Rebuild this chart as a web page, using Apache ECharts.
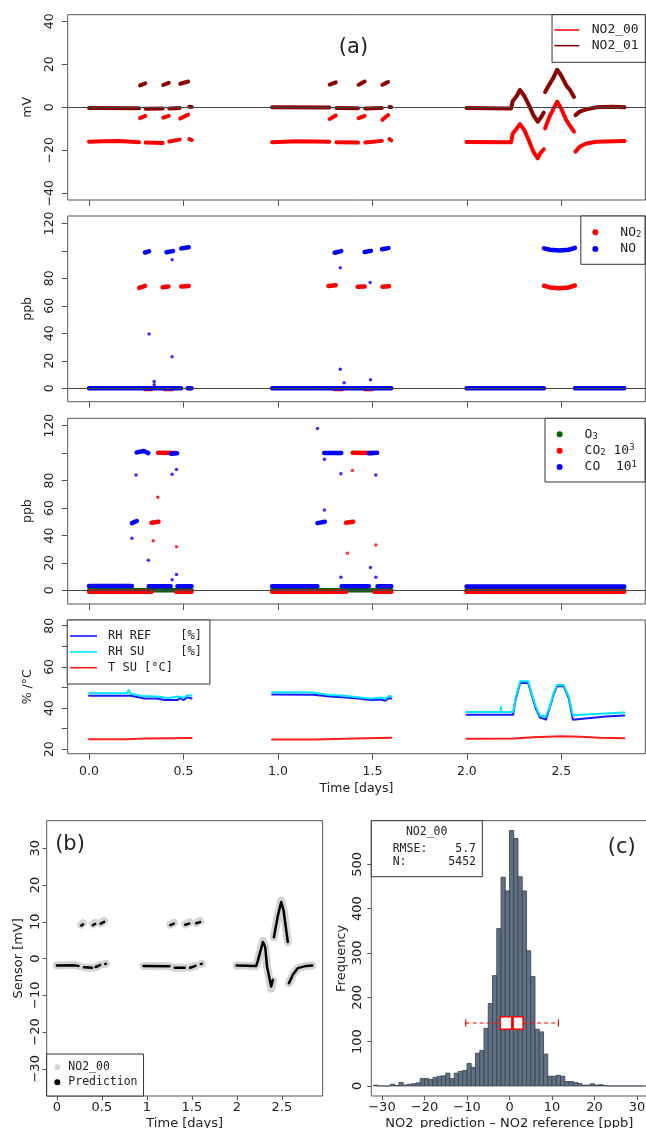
<!DOCTYPE html>
<html><head><meta charset="utf-8">
<script src="https://cdn.jsdelivr.net/npm/echarts@6/dist/echarts.min.js"></script>
<style>html,body{margin:0;padding:0;background:#fff}#c{width:646px;height:1128px}</style>
</head><body><div id="c"></div>
<script>
// ---------------- DATA ----------------
const dayTicks = [0, 0.5, 1, 1.5, 2, 2.5];
const mvTicks = [-40, -20, 0, 20, 40];
const ppbTicks = [0, 20, 40, 60, 80, 100, 120];
const ppbLabels = [0, 20, 40, 60, 80, 120];
const rhTicks = [20, 30, 40, 50, 60, 70, 80];
const rhLabels = [20, 40, 60, 80];
const sensTicks = [-30, -20, -10, 0, 10, 20, 30];
const errTicks = [-30, -20, -10, 0, 10, 20, 30];
const freqTicks = [0, 100, 200, 300, 400, 500];

// (a) sensor signals [day, mV]
const no2_00_mV = [
 [0,-16.0],[0.08,-15.8],[0.16,-15.6],[0.265,-16.2], null,
 [0.27,-5.0],[0.298,-4.0], null,
 [0.30,-16.4],[0.39,-16.6], null,
 [0.393,-4.8],[0.422,-4.0], null,
 [0.425,-15.9],[0.48,-15.0], null,
 [0.483,-5.2],[0.525,-3.4], null,
 [0.531,-14.8],[0.544,-15.2], null,
 [0.969,-16.2],[1.10,-15.8],[1.272,-16.0], null,
 [1.274,-5.4],[1.306,-3.8], null,
 [1.31,-16.2],[1.424,-16.4], null,
 [1.427,-5.0],[1.459,-4.0], null,
 [1.462,-16.4],[1.55,-15.6], null,
 [1.553,-5.8],[1.583,-3.6], null,
 [1.59,-14.8],[1.60,-15.4], null,
 [1.998,-16.1],[2.234,-16.2],[2.243,-12.2],[2.264,-9.8],[2.281,-7.8],[2.304,-10.6],[2.327,-15.2],[2.352,-20.6],[2.375,-23.7],[2.388,-21.4],[2.407,-19.5], null,
 [2.414,-9.8],[2.437,-4.4],[2.455,-1.3],[2.478,2.6],[2.499,-0.5],[2.526,-5.9],[2.547,-8.7],[2.567,-11.3], null,
 [2.575,-20.6],[2.597,-18.3],[2.632,-16.8],[2.685,-16.0],[2.835,-15.7]
];
const no2_01_mV = [
 [0,-0.3],[0.265,-0.4], null,
 [0.27,10.2],[0.298,11.2], null,
 [0.30,-0.6],[0.39,-0.5], null,
 [0.393,10.4],[0.422,11.4], null,
 [0.425,-0.5],[0.48,-0.3], null,
 [0.483,11.0],[0.525,12.0], null,
 [0.531,0.3],[0.544,0.2], null,
 [0.969,0],[1.272,-0.1], null,
 [1.274,10.6],[1.306,11.6], null,
 [1.31,-0.3],[1.424,-0.4], null,
 [1.427,10.5],[1.459,12.0], null,
 [1.462,-0.5],[1.55,-0.3], null,
 [1.553,10.5],[1.583,11.8], null,
 [1.59,0.2],[1.60,0.1], null,
 [1.998,-0.3],[2.234,-0.5],[2.243,3.0],[2.264,5.3],[2.281,8.1],[2.304,5.3],[2.327,1.3],[2.352,-3.6],[2.375,-6.7],[2.388,-5.2],[2.407,-2.5], null,
 [2.414,7.1],[2.437,10.7],[2.455,13.3],[2.478,17.5],[2.499,14.9],[2.526,10.2],[2.547,7.9],[2.567,4.8], null,
 [2.575,-3.6],[2.597,-2.0],[2.632,-0.9],[2.685,0],[2.773,0.3],[2.835,0]
];

// (b) reference NO2 / NO [day, ppb]
const no2_ppb = [
 [0.296,-0.6],[0.33,-0.6], null, [0.40,-0.6],[0.44,-0.6], null,
 [0.266,73.0],[0.297,74.5], null,
 [0.39,73.5],[0.42,74.0], null,
 [0.488,74.0],[0.528,74.5], null,
 [1.30,-0.6],[1.34,-0.6], null, [1.46,-0.6],[1.50,-0.6], null,
 [1.267,74.5],[1.306,75.0], null,
 [1.422,73.8],[1.459,74.0], null,
 [1.553,73.8],[1.588,74.2], null,
 [2.408,74.6],[2.44,73.4],[2.49,72.8],[2.54,73.4],[2.572,74.8]
];
const no_ppb = [
 [0,0],[0.487,0], null, [0.522,0],[0.543,0], null,
 [0.296,98.8],[0.318,99.6], null,
 [0.41,99.0],[0.445,99.8], null,
 [0.488,101.8],[0.528,102.6], null,
 [0.969,0],[1.60,0], null,
 [1.30,98.6],[1.335,99.8], null,
 [1.459,99.2],[1.492,100.0], null,
 [1.551,101.2],[1.585,102.0], null,
 [1.998,0],[2.408,0], null,
 [2.408,101.8],[2.44,100.8],[2.49,100.2],[2.54,100.8],[2.572,102.2], null,
 [2.572,0],[2.833,0]
];
const no_outliers = [[0.318,39.5],[0.44,93.5],[0.44,23],[0.345,5],[0.345,2.5],[1.33,87.7],[1.33,13.8],[1.488,77],[1.49,6.3],[1.35,4]];

// (c) reference O3 / CO2 / CO [day, ppb]
const o3_ppb = [[0,0],[0.543,0], null, [0.969,0],[1.60,0], null, [1.998,0],[2.833,0]];
const co2_ppb = [
 [0,-1],[0.331,-1], null,
 [0.331,49.2],[0.368,50.0], null,
 [0.366,100.2],[0.456,100.0], null,
 [0.462,-1],[0.543,-1], null,
 [0.969,-1],[1.361,-1], null,
 [1.361,49.2],[1.398,50.0], null,
 [1.396,100.2],[1.503,100.0], null,
 [1.51,-1],[1.60,-1], null,
 [1.998,-1],[2.833,-1]
];
const co2_outliers = [[0.364,67.8],[0.34,36.2],[0.463,31.8],[1.394,87.3],[1.368,27],[1.518,33]];
const co_ppb = [
 [0,3.2],[0.227,3.2], null,
 [0.227,49.0],[0.253,50.5], null,
 [0.252,100.5],[0.29,101.5],[0.314,100.0], null,
 [0.316,3.0],[0.432,3.0], null,
 [0.434,99.6],[0.466,99.8], null,
 [0.468,3.0],[0.543,3.0], null,
 [0.969,3.0],[1.209,3.0], null,
 [1.209,49.0],[1.248,50.0], null,
 [1.245,100.0],[1.335,100.0], null,
 [1.337,3.0],[1.481,3.0], null,
 [1.481,99.8],[1.525,100.2], null,
 [1.527,3.0],[1.60,3.0], null,
 [1.998,2.8],[2.833,2.8]
];
const co_outliers = [[0.249,84],[0.227,37.9],[0.314,22],[0.44,84.5],[0.463,88],[0.44,7.8],[0.463,11.6],[1.209,118],[1.246,95.5],[1.246,58.6],[1.333,85],[1.333,9.6],[1.518,84],[1.49,16.6],[1.518,9.6]];

// (d) humidity / temperature [day, value]
const rhRef = [
 [0,46.0],[0.20,46.0],[0.21,46.6],[0.22,46.0],[0.27,45.1],[0.29,44.7],[0.36,44.7],[0.40,43.9],[0.47,43.9],[0.48,45.0],[0.50,43.9],[0.52,45.2],[0.543,44.7], null,
 [0.969,46.6],[1.186,46.5],[1.275,45.6],[1.34,45.3],[1.424,44.6],[1.49,43.9],[1.546,44.2],[1.568,43.6],[1.59,44.9],[1.60,44.6], null,
 [1.998,36.8],[2.18,36.8],[2.245,36.8],[2.256,43.3],[2.282,52.2],[2.325,52.2],[2.34,47.3],[2.364,40.0],[2.386,35.5],[2.418,34.4],[2.433,38.5],[2.462,47.3],[2.477,50.6],[2.513,50.6],[2.539,44.9],[2.561,34.4],[2.626,34.9],[2.735,35.9],[2.833,36.4]
];
const rhSu = [
 [0,47.2],[0.20,47.2],[0.21,48.8],[0.22,47.0],[0.28,45.9],[0.36,45.6],[0.42,44.9],[0.47,45.6],[0.48,46.0],[0.50,45.0],[0.52,46.2],[0.543,46.0], null,
 [0.969,47.7],[1.186,47.6],[1.275,46.3],[1.34,46.1],[1.424,45.3],[1.49,44.6],[1.546,45.1],[1.568,44.5],[1.59,45.9],[1.60,45.6], null,
 [1.998,38.1],[2.178,38.1],[2.18,40.5],[2.182,38.1],[2.245,38.1],[2.256,44.0],[2.282,53.0],[2.325,53.0],[2.34,48.0],[2.364,41.0],[2.386,36.4],[2.418,35.8],[2.433,39.2],[2.462,48.0],[2.477,51.2],[2.513,51.2],[2.539,45.6],[2.561,36.5],[2.626,36.9],[2.735,37.4],[2.833,37.9]
];
const tSu = [
 [0,24.9],[0.2,24.9],[0.3,25.3],[0.543,25.5], null,
 [0.969,24.7],[1.2,24.8],[1.4,25.2],[1.60,25.6], null,
 [1.998,25.1],[2.25,25.2],[2.35,25.8],[2.5,26.3],[2.6,26.1],[2.7,25.6],[2.833,25.4]
];

// (b bottom) sensor vs prediction [day, mV]
const sens_mV = [
 [0,-1.9],[0.18,-1.7],[0.24,-2.0], null,
 [0.271,9.2],[0.29,9.6], null,
 [0.30,-2.4],[0.39,-2.5], null,
 [0.40,9.3],[0.425,9.7], null,
 [0.43,-2.3],[0.48,-1.8], null,
 [0.486,9.6],[0.525,10.3], null,
 [0.535,-1.5],[0.545,-1.4], null,
 [0.963,-2.0],[1.25,-2.1], null,
 [1.26,9.2],[1.30,9.7], null,
 [1.31,-2.5],[1.42,-2.5], null,
 [1.426,9.3],[1.47,9.8], null,
 [1.48,-2.5],[1.54,-2.0], null,
 [1.548,9.7],[1.59,10.2], null,
 [1.60,-1.5],[1.61,-1.4], null,
 [1.997,-1.9],[2.215,-2.0],[2.234,-0.5],[2.289,4.8],[2.314,3.2],[2.336,-2.3],[2.363,-5.8],[2.381,-8.2],[2.40,-6.0], null,
 [2.411,5.8],[2.455,11.8],[2.492,15.8],[2.518,13.2],[2.548,7.7],[2.566,4.5], null,
 [2.578,-6.7],[2.622,-4.4],[2.678,-2.6],[2.77,-2.0],[2.837,-1.9]
];
const pred_mV = [
 [0,-1.9],[0.18,-1.8],[0.24,-2.0], null,
 [0.271,9.0],[0.29,9.3], null,
 [0.30,-2.4],[0.39,-2.5], null,
 [0.40,9.1],[0.425,9.4], null,
 [0.43,-2.3],[0.48,-1.8], null,
 [0.486,9.5],[0.525,10.0], null,
 [0.535,-1.5],[0.545,-1.4], null,
 [0.963,-2.0],[1.25,-2.1], null,
 [1.26,9.1],[1.30,9.5], null,
 [1.31,-2.5],[1.42,-2.5], null,
 [1.426,9.2],[1.47,9.5], null,
 [1.48,-2.5],[1.54,-2.0], null,
 [1.548,9.6],[1.59,9.9], null,
 [1.60,-1.5],[1.61,-1.4], null,
 [1.997,-1.9],[2.215,-2.0],[2.234,-0.5],[2.289,4.5],[2.314,3.2],[2.336,-2.3],[2.363,-5.5],[2.381,-7.6],[2.40,-5.8], null,
 [2.411,5.8],[2.455,11.6],[2.492,15.4],[2.518,13.2],[2.548,7.7],[2.566,4.5], null,
 [2.578,-6.7],[2.622,-4.4],[2.678,-2.6],[2.77,-2.0],[2.837,-1.9]
];

// (c) error histogram: bin start [ppb] (width 1) and frequency
const binStart = [-32,-31,-30,-29,-28,-27,-26,-25,-24,-23,-22,-21,-20,-19,-18,-17,-16,-15,-14,-13,-12,-11,-10,-9,-8,-7,-6,-5,-4,-3,-2,-1,0,1,2,3,4,5,6,7,8,9,10,11,12,13,14,15,16,17,18,19,20,21,22,23,24,25,26,27,28,29,30,31];
const binFreq  = [2,0,0,0,4,1,8,2,4,5,7,17,17,15,19,22,23,29,17,29,33,35,51,42,74,80,130,186,249,355,471,440,576,558,472,440,305,247,128,122,72,22,22,24,22,10,10,8,6,2,2,5,2,3,1,0,0,0,0,0,0,0,0,0];
// box plot of the errors: [whisker low, Q1, median, Q3, whisker high]
const errBox = [-10.3, -2.2, 0.7, 3.2, 11.5];
const stats = {label: 'NO2_00', rmse: '5.7', n: '5452'};

// ---------------- CHART ----------------
const FONT = 'DejaVu Sans', MONO = 'DejaVu Sans Mono', FRAME = '#555', TXT = '#222';
const chart = echarts.init(document.getElementById('c'), null, {renderer: 'canvas', width: 646, height: 1128});

const grids = [
 {left: 67.7, top: 14.7, width: 577.6, height: 185.3},
 {left: 67.7, top: 216, width: 577.6, height: 185.7},
 {left: 67.7, top: 418.3, width: 577.6, height: 185.7},
 {left: 67.7, top: 620, width: 577.6, height: 133.7},
 {left: 46.7, top: 820.7, width: 276, height: 275.3},
 {left: 371.3, top: 820.7, width: 276, height: 275.3}
].map(g => Object.assign({show: true, borderColor: FRAME, borderWidth: 1, backgroundColor: '#fff', containLabel: false, outerBoundsMode: 'none'}, g));

function axisBase(o) {
  return Object.assign({
    type: 'value', splitLine: {show: false}, axisLine: {show: false, onZero: false},
    axisTick: {show: true, length: 6, lineStyle: {color: FRAME, width: 1}},
    axisLabel: {show: false, color: TXT, fontFamily: FONT, fontSize: 12.5},
    nameTextStyle: {color: TXT, fontFamily: FONT, fontSize: 12.5},
    nameMoveOverlap: false
  }, o);
}
const minus = v => String(v).replace('-', '\u2212');

const xAxes = [0, 1, 2].map(i => axisBase({gridIndex: i, min: -0.1128, max: 2.9444, position: 'bottom',
   axisTick: {show: true, length: 6, customValues: dayTicks, lineStyle: {color: FRAME}}}));
xAxes.push(axisBase({gridIndex: 3, min: -0.1128, max: 2.9444, position: 'bottom',
   axisTick: {show: true, length: 6, customValues: dayTicks, lineStyle: {color: FRAME}},
   axisLabel: {show: true, customValues: dayTicks, margin: 12, color: TXT, fontFamily: FONT, fontSize: 12.5, formatter: v => v.toFixed(1)},
   name: 'Time [days]', nameLocation: 'middle', nameGap: 29}));
xAxes.push(axisBase({gridIndex: 4, min: -0.1136, max: 2.9536, position: 'bottom',
   axisTick: {show: true, length: 4, customValues: dayTicks, lineStyle: {color: FRAME}},
   axisLabel: {show: true, customValues: dayTicks, margin: 5, color: TXT, fontFamily: FONT, fontSize: 13, formatter: v => String(v)},
   name: 'Time [days]', nameLocation: 'middle', nameGap: 21, nameTextStyle: {color: TXT, fontFamily: FONT, fontSize: 13}}));
xAxes.push(axisBase({gridIndex: 5, min: -32.5, max: 32.4, position: 'bottom',
   axisTick: {show: true, length: 4, customValues: errTicks, lineStyle: {color: FRAME}},
   axisLabel: {show: true, customValues: errTicks, margin: 5, color: TXT, fontFamily: FONT, fontSize: 13, formatter: minus},
   name: 'NO2_prediction \u2013 NO2 reference [ppb]', nameLocation: 'middle', nameGap: 21, nameTextStyle: {color: TXT, fontFamily: FONT, fontSize: 13}}));

function yAx(i, min, max, ticks, labels, name, gap, margin, tl, fs) {
  return axisBase({gridIndex: i, min: min, max: max, position: 'left',
    axisTick: {show: true, length: tl, customValues: ticks, lineStyle: {color: FRAME}},
    axisLabel: {show: true, customValues: labels, rotate: 90, margin: margin, color: TXT, fontFamily: FONT, fontSize: fs, formatter: minus},
    name: name, nameLocation: 'middle', nameRotate: 90, nameGap: gap,
    nameTextStyle: {color: TXT, fontFamily: FONT, fontSize: fs}});
}
const yAxes = [
  yAx(0, -43.1, 43.1, mvTicks, mvTicks, 'mV', 33, 11, 6, 12.5),
  yAx(1, -9.75, 125.35, ppbTicks, ppbLabels, 'ppb', 33, 11, 6, 12.5),
  yAx(2, -9.95, 125.35, ppbTicks, ppbLabels, 'ppb', 33, 11, 6, 12.5),
  yAx(3, 17.86, 82.77, rhTicks, rhLabels, '% /\u00b0C', 33, 11, 6, 12.5),
  yAx(4, -37.4, 37.5, sensTicks, sensTicks, 'Sensor [mV]', 22, 5, 4, 13),
  yAx(5, -22.6, 598.3, freqTicks, freqTicks, 'Frequency', 23, 7, 4, 13)
];

const zeroLine = {silent: true, symbol: ['none', 'none'], label: {show: false},
  lineStyle: {color: '#444', width: 1, type: 'solid'}, data: [{yAxis: 0}], animation: false};

function lineS(name, data, xi, color, width, extra) {
  return Object.assign({name: name, type: 'line', data: data, xAxisIndex: xi, yAxisIndex: xi,
    showSymbol: false, symbol: 'none', connectNulls: false, animation: false,
    lineStyle: {color: color, width: width, cap: 'round', join: 'round'}, itemStyle: {color: color}}, extra || {});
}
function dotS(name, data, xi, color, size) {
  return {name: name, type: 'scatter', data: data, xAxisIndex: xi, yAxisIndex: xi,
    symbolSize: size, itemStyle: {color: color}, animation: false};
}

const histData = binStart.map((b, i) => [b, binFreq[i]]);

const series = [
  lineS('NO2_00', no2_00_mV, 0, '#ff0000', 4, {markLine: zeroLine, z: 3}),
  lineS('NO2_01', no2_01_mV, 0, '#8b0000', 4, {z: 3}),

  lineS('NO2', no2_ppb, 1, '#ff0000', 4.5, {markLine: zeroLine, z: 3}),
  lineS('NO', no_ppb, 1, '#0000ff', 4.5, {z: 4}),
  dotS('NO', no_outliers, 1, '#0000ff', 3.5),

  lineS('O3', o3_ppb, 2, '#006400', 4.5, {markLine: zeroLine, z: 3}),
  lineS('CO2', co2_ppb, 2, '#ff0000', 4.5, {z: 3}),
  dotS('CO2', co2_outliers, 2, '#ff0000', 3.5),
  lineS('CO', co_ppb, 2, '#0000ff', 4.5, {z: 4}),
  dotS('CO', co_outliers, 2, '#0000ff', 3.5),

  lineS('RH REF    [%]', rhRef, 3, '#1a1aff', 2),
  lineS('RH SU     [%]', rhSu, 3, '#00e5ff', 2),
  lineS('T SU [\u00b0C]', tSu, 3, '#ff1a1a', 2),

  lineS('sensor', sens_mV, 4, '#d4d4d4', 8),
  lineS('Prediction', pred_mV, 4, '#000000', 2.5, {z: 4}),

  {name: 'hist', type: 'custom', xAxisIndex: 5, yAxisIndex: 5, data: histData, animation: false,
   encode: {x: 0, y: 1},
   renderItem: function (params, api) {
     const b = api.value(0), f = api.value(1);
     const p0 = api.coord([b, 0]), p1 = api.coord([b + 1, f]);
     return {type: 'rect', shape: {x: p0[0], y: p1[1], width: p1[0] - p0[0], height: p0[1] - p1[1]},
       style: {fill: '#617184', stroke: '#36404c', lineWidth: 0.8}};
   }},
  {name: 'box', type: 'custom', xAxisIndex: 5, yAxisIndex: 5, data: [[...errBox, 142, 14, 8]], animation: false, z: 5,
   encode: {x: [0, 4], y: 5},
   renderItem: function (params, api) {
     const lo = api.value(0), q1 = api.value(1), md = api.value(2), q3 = api.value(3), hi = api.value(4);
     const yc = api.value(5), hh = api.value(6), ch = api.value(7);
     const c = (x, y) => api.coord([x, y]);
     const red = '#ff0000';
     const ln = (a, b, dash, w) => ({type: 'line', shape: {x1: a[0], y1: a[1], x2: b[0], y2: b[1]},
       style: {stroke: red, lineWidth: w || 1.2, lineDash: dash || null}});
     const tl = c(q1, yc + hh), br = c(q3, yc - hh);
     return {type: 'group', children: [
       ln(c(lo, yc), c(q1, yc), [4, 3]),
       ln(c(q3, yc), c(hi, yc), [4, 3]),
       ln(c(lo, yc + ch), c(lo, yc - ch)),
       ln(c(hi, yc + ch), c(hi, yc - ch)),
       {type: 'rect', shape: {x: tl[0], y: tl[1], width: br[0] - tl[0], height: br[1] - tl[1]},
        style: {fill: '#fff', stroke: red, lineWidth: 1.6}},
       ln(c(md, yc + hh), c(md, yc - hh), null, 2.8)
     ]};
   }}
];

const legText = {fontFamily: MONO, fontSize: 13, color: TXT, lineHeight: 14};
const richSub = {
  m: {fontFamily: MONO, fontSize: 13, color: TXT, lineHeight: 14},
  s: {fontFamily: MONO, fontSize: 9, color: TXT, lineHeight: 8, verticalAlign: 'bottom'},
  p: {fontFamily: MONO, fontSize: 9, color: TXT, lineHeight: 8, verticalAlign: 'top'}
};
const legBase = {orient: 'vertical', align: 'left', borderColor: '#333', borderWidth: 1, backgroundColor: '#fff',
  selectedMode: false, inactiveColor: TXT, symbolKeepAspect: true};

const legends = [
  Object.assign({}, legBase, {right: 0.7, top: 14.7, data: ['NO2_00', 'NO2_01'],
    icon: 'path://M0,0H25V1.5H0Z',
    itemWidth: 25, itemHeight: 14, itemGap: 1.7, padding: [8.3, 6.6, 9.6, 2.3],
    textStyle: Object.assign({padding: [0, 0, 0, 7.4]}, legText)}),
  Object.assign({}, legBase, {right: 1, top: 216, data: ['NO2', 'NO'], icon: 'circle',
    itemWidth: 6, itemHeight: 6, itemGap: 2.7, padding: [9.3, 3.6, 8.3, 11.5],
    formatter: n => n === 'NO2' ? '{m|NO}{s|2}' : '{m|NO}',
    textStyle: Object.assign({padding: [0, 0, 0, 17], rich: richSub}, legText)}),
  Object.assign({}, legBase, {right: 1, top: 418.3, data: ['O3', 'CO2', 'CO'], icon: 'circle',
    itemWidth: 6, itemHeight: 6, itemGap: 2.35, padding: [9, 8, 8, 11.6],
    formatter: n => n === 'O3' ? '{m|O}{s|3}' : (n === 'CO2' ? '{m|CO}{s|2}{m| 10}{p|3}' : '{m|CO  10}{p|1}'),
    textStyle: Object.assign({padding: [0, 0, 0, 17], rich: richSub}, legText)}),
  Object.assign({}, legBase, {left: 67.2, top: 620, data: ['RH REF    [%]', 'RH SU     [%]', 'T SU [\u00b0C]'],
    icon: 'path://M0,0H27V1.6H0Z',
    itemWidth: 27, itemHeight: 14, itemGap: 1.85, padding: [9, 8, 9.3, 2.8],
    textStyle: {fontFamily: MONO, fontSize: 12, color: TXT, lineHeight: 14, padding: [0, 0, 0, 6]}}),
  Object.assign({}, legBase, {left: 46.7, bottom: 1128 - 1096, data: ['sensor', 'Prediction'], icon: 'circle',
    itemWidth: 6, itemHeight: 6, itemGap: 2, padding: [6.8, 6, 7.2, 7.6],
    formatter: n => n === 'sensor' ? 'NO2_00' : n,
    textStyle: {fontFamily: MONO, fontSize: 11.5, color: TXT, lineHeight: 13, padding: [0, 0, 0, 3]}})
];

const labelFont = '21px "DejaVu Sans"', statFont = '11.5px "DejaVu Sans Mono"';
const graphic = [
  {type: 'text', position: [353.5, 48], style: {text: '(a)', font: labelFont, fill: TXT, textAlign: 'center', textVerticalAlign: 'middle'}},
  {type: 'text', position: [70, 845], style: {text: '(b)', font: labelFont, fill: TXT, textAlign: 'center', textVerticalAlign: 'middle'}},
  {type: 'text', position: [621.7, 848], style: {text: '(c)', font: labelFont, fill: TXT, textAlign: 'center', textVerticalAlign: 'middle'}},
  {type: 'rect', shape: {x: 371.3, y: 820.7, width: 111, height: 56}, style: {fill: '#fff', stroke: '#333', lineWidth: 1}, z: 10},
  {type: 'text', position: [426.7, 831.7], z: 11, style: {text: stats.label, font: statFont, fill: TXT, textAlign: 'center', textVerticalAlign: 'middle'}},
  {type: 'text', position: [392.7, 849], z: 11, style: {text: 'RMSE:', font: statFont, fill: TXT, textAlign: 'left', textVerticalAlign: 'middle'}},
  {type: 'text', position: [476, 849], z: 11, style: {text: stats.rmse, font: statFont, fill: TXT, textAlign: 'right', textVerticalAlign: 'middle'}},
  {type: 'text', position: [392.7, 862], z: 11, style: {text: 'N:', font: statFont, fill: TXT, textAlign: 'left', textVerticalAlign: 'middle'}},
  {type: 'text', position: [476, 862], z: 11, style: {text: stats.n, font: statFont, fill: TXT, textAlign: 'right', textVerticalAlign: 'middle'}}
];

chart.setOption({
  animation: false,
  backgroundColor: '#fff',
  grid: grids, xAxis: xAxes, yAxis: yAxes,
  legend: legends, series: series, graphic: graphic
});
</script></body></html>
